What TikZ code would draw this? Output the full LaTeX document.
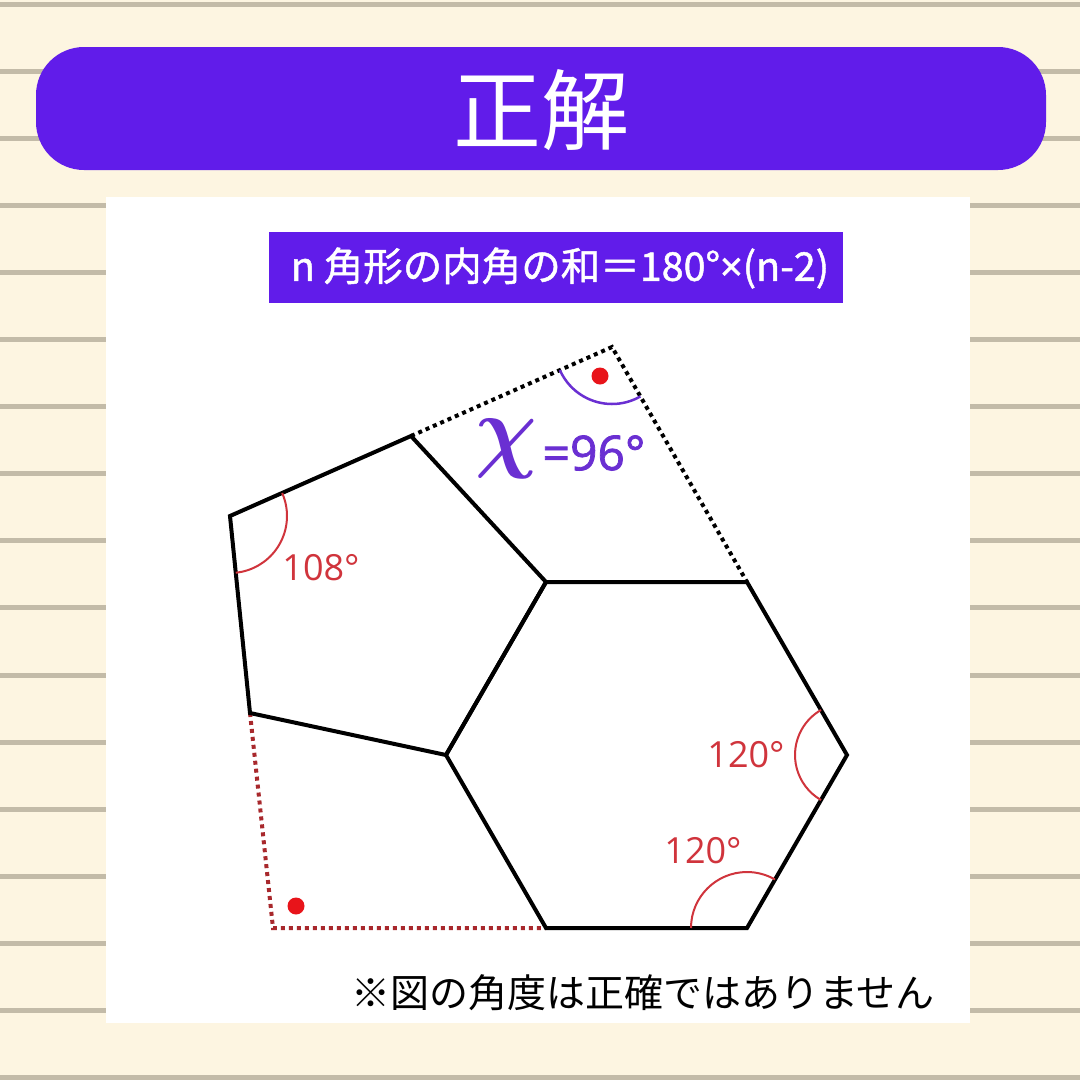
\documentclass[tikz,border=0pt]{standalone}
\usepackage{fontspec}
\setmainfont{Open Sans}
\newfontfamily\jp{Noto Sans CJK JP}
\newfontfamily\jpm[FakeBold=1.2]{Noto Sans CJK JP}
\newfontfamily\osm[FakeBold=1.6]{Open Sans}
\definecolor{bg}{HTML}{FDF5E1}
\definecolor{ruleC}{HTML}{C3BBA8}
\definecolor{purp}{HTML}{611CEA}
\definecolor{xpurp}{HTML}{6A2FD2}
\definecolor{angred}{HTML}{D0343C}
\definecolor{dotred}{HTML}{A8282C}
\definecolor{dotc}{HTML}{E8141A}
\begin{document}
\begin{tikzpicture}[x=1pt,y=-1pt,
  edge/.style={line width=4pt, line join=miter, line cap=round},
  dotline/.style={line width=4pt, dash pattern=on 4pt off 4pt},
  angarc/.style={angred, line width=2pt},
  anglabel/.style={text=angred, font=\fontsize{36}{36}\selectfont, inner sep=0pt},
  reddot/.style={circle, fill=dotc, minimum size=17pt, inner sep=0pt}]
\fill[bg] (0,0) rectangle (1080,1080);
\useasboundingbox (0,0) rectangle (1080,1080);
\foreach \k in {0,...,16}
  \draw[ruleC, line width=5pt] (0,{4+67.1*\k}) -- (1080,{4+67.1*\k});
% banner
\fill[purp, rounded corners=48pt] (36,47) rectangle (1046,170);
\node[font=\jp\fontsize{88}{88}\selectfont, text=white, inner sep=0pt] (title) at (541,110) {正解};
% panel
\fill[white] (106,197) rectangle (970,1023);
\node[fill=purp, minimum width=574pt, minimum height=71pt, inner sep=0pt] (formula) at (556,267.5) {};
\node[text=white, font=\jpm\fontsize{39.5}{39.5}\selectfont, inner sep=0pt] (ftext) at (560,268) {n 角形の内角の和＝180°{\osm ×}(n-2)};
% vertices
\coordinate (A) at (411,436);
\coordinate (B) at (230,516);
\coordinate (C) at (250,713);
\coordinate (D) at (446,755);
\coordinate (E) at (546,582);
\coordinate (F) at (747,582);
\coordinate (G) at (847,755);
\coordinate (H) at (747,928);
\coordinate (I) at (546,928);
\coordinate (P) at (612,347);
\coordinate (Q) at (273,928);
% dotted extensions
\draw[dotline, black] (A) -- (P) -- (F);
\draw[dotline, dotred] (C) -- (Q) -- (I);
% polygons
\draw[edge] (A) -- (B) -- (C) -- (D) -- (E) -- cycle;
\draw[edge] (E) -- (F) -- (G) -- (H) -- (I) -- (D) -- cycle;
% angle arcs
\draw[angarc] ([shift={(-23.8:57)}]B) arc[start angle=-23.8, end angle=84.2, radius=57];
\draw[angarc] ([shift={(120:52)}]G) arc[start angle=120, end angle=240, radius=52];
\draw[angarc] ([shift={(180:56)}]H) arc[start angle=180, end angle=300, radius=56];
\draw[xpurp, line width=2.5pt] ([shift={(60.1:57)}]P) arc[start angle=60.1, end angle=156.1, radius=57];
% dots
\node[reddot] (dot1) at (600,376) {};
\node[reddot] (dot2) at (296,906) {};
% labels
\node[anglabel] (l108) at (321,568) {108°};
\node[anglabel] (l120a) at (746,755) {120°};
\node[anglabel] (l120b) at (703,851) {120°};
\node[text=xpurp, font=\boldmath, xscale=8.6, yscale=9.3, inner sep=0pt] (xvar) at (506,449) {$\chi$};
\node[text=xpurp, font=\osm\fontsize{48}{48}\selectfont, inner sep=0pt] (xval) at (594,453) {=96°};
\node[font=\jp\fontsize{39}{39}\selectfont, inner sep=0pt] (note) at (643,993) {※図の角度は正確ではありません};
\end{tikzpicture}
\end{document}
